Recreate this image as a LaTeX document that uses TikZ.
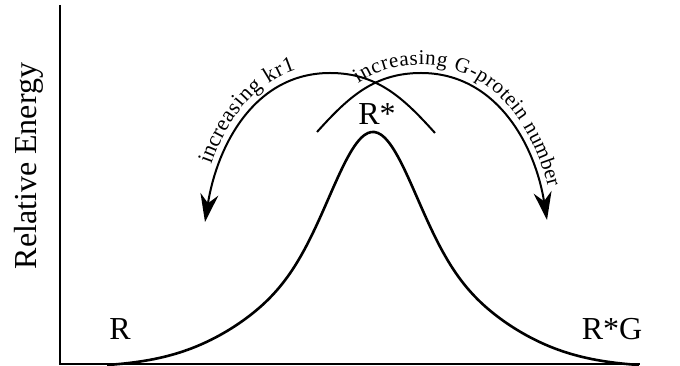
\documentclass[tikz,border=0pt]{standalone}
\usepackage{fontspec}
\setmainfont{Liberation Serif}
\usetikzlibrary{arrows.meta,decorations.text}

\begin{document}
\begin{tikzpicture}[x=1pt, y=1pt, >={Stealth[length=28pt,width=18pt,inset=9pt]},
	statelabel/.style={font=\fontsize{32}{36}\selectfont, inner sep=0pt},
	flowarc/.style={line width=2pt}]
	\useasboundingbox (0,0) rectangle (680,366);
	\draw[line width=2pt] (60,361) -- (60,1.5) -- (640,1.5);
	\node[statelabel, rotate=90] (energy) at (29,200) {Relative Energy};
	\draw[line width=2.6pt, line join=round] plot[domain=-2.66:2.66, samples=160, smooth] ({373+100*\x}, {1+233*(0.5*exp(-3.125*\x*\x)+0.5*exp(-0.554*\x*\x)-0.0099)/0.99});
	\node[statelabel] (rstar) at (377,252) {R*};
	\node[statelabel] (r) at (120,37) {R};
	\node[statelabel] (rstarg) at (612,37) {R*G};
	\coordinate (kEnd) at (205,144);
	\coordinate (kTop) at (330,293);
	\coordinate (kStart) at (435,233);
	\coordinate (gStart) at (317,234);
	\coordinate (gTop) at (421,293);
	\coordinate (gEnd) at (547,146);
	\draw[flowarc, <-] (kEnd) to[out=81,in=180] (kTop) to[out=0,in=132] (kStart);
	\path[decorate, decoration={text along path, raise=8pt, text align={left, left indent=56pt}, text={|\fontsize{22}{26}\selectfont|increasing kr1}}] (kEnd) to[out=81,in=180] (kTop) to[out=0,in=132] (kStart);
	\draw[flowarc, ->] (gStart) to[out=48,in=180] (gTop) to[out=0,in=99] (gEnd);
	\path[decorate, decoration={text along path, raise=8pt, text align={left, left indent=62pt}, text={|\fontsize{21}{25}\selectfont|increasing G-protein number}}] (gStart) to[out=48,in=180] (gTop) to[out=0,in=99] (gEnd);
\end{tikzpicture}
\end{document}
